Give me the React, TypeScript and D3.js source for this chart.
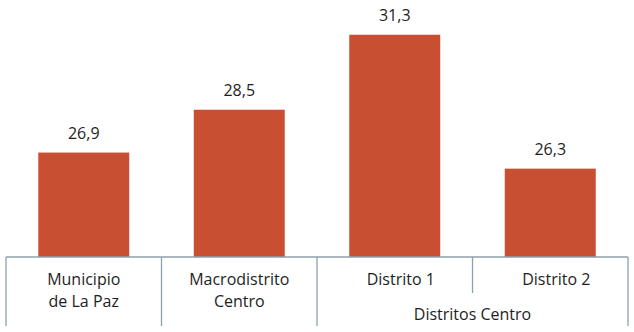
import React from "react";
import * as d3 from "d3";

const categories = ["Municipio|de La Paz", "Macrodistrito|Centro", "Distrito 1", "Distrito 2"];
const values = [26.9, 28.5, 31.3, 26.3];
const groups = ["", "", "Distritos Centro", "Distritos Centro"];
const yDomain = [23, 32];

const W = 634;
const H = 332;
const BAR = "#C94F32";
const AXIS = "#8DA1AC";
const TEXT = "#1E1E1E";
const FONT = "'Open Sans', sans-serif";

export default function App() {
  const x = d3.scaleBand<string>().domain(categories).range([6, 628]).paddingInner(0.415).paddingOuter(0.2075);
  const y = d3.scaleLinear().domain(yDomain).range([257, 16]);
  const base = y(yDomain[0]);
  const step = x.step();
  const x0 = 6;
  const fmt = (v: number) => v.toFixed(1).replace(".", ",");

  // boundaries between categories
  const bounds = d3.range(categories.length + 1).map((i) => {
    const long =
      i === 0 || i === categories.length || groups[i - 1] !== groups[i] || groups[i] === "";
    return { xp: x0 + i * step, long };
  });

  // group spans
  const spans: { name: string; start: number; end: number }[] = [];
  groups.forEach((g, i) => {
    if (!g) return;
    const last = spans[spans.length - 1];
    if (last && last.name === g && last.end === i - 1) last.end = i;
    else spans.push({ name: g, start: i, end: i });
  });

  return (
    <svg width={W} height={H} style={{ position: "absolute", left: 0, top: 0, background: "#fff" }}>
      {categories.map((c, i) => (
        <rect key={c} x={x(c)} y={y(values[i])} width={x.bandwidth()} height={base - y(values[i])} fill={BAR} />
      ))}
      {categories.map((c, i) => (
        <text
          key={"v" + c}
          x={(x(c) as number) + x.bandwidth() / 2}
          y={y(values[i]) - 14}
          textAnchor="middle"
          fontFamily={FONT}
          fontSize={16}
          fill={TEXT}
        >
          {fmt(values[i])}
        </text>
      ))}
      <line x1={x0} x2={x0 + categories.length * step} y1={base} y2={base} stroke={AXIS} strokeWidth={1.3} />
      {bounds.map((b, i) => (
        <line key={"t" + i} x1={b.xp} x2={b.xp} y1={base} y2={b.long ? 326 : 293} stroke={AXIS} strokeWidth={1.3} />
      ))}
      {categories.map((c, i) => {
        const lines = c.split("|");
        const cx = (x(c) as number) + x.bandwidth() / 2 + (groups[i] ? 6 : 0);
        return (
          <text key={"c" + c} textAnchor="middle" fontFamily={FONT} fontSize={16} fill={TEXT}>
            {lines.map((l, k) => (
              <tspan key={k} x={cx} y={285 + k * 22}>
                {l}
              </tspan>
            ))}
          </text>
        );
      })}
      {spans.map((s) => (
        <text
          key={s.name}
          x={x0 + ((s.start + s.end + 1) / 2) * step}
          y={320}
          textAnchor="middle"
          fontFamily={FONT}
          fontSize={16}
          fill={TEXT}
        >
          {s.name}
        </text>
      ))}
    </svg>
  );
}
